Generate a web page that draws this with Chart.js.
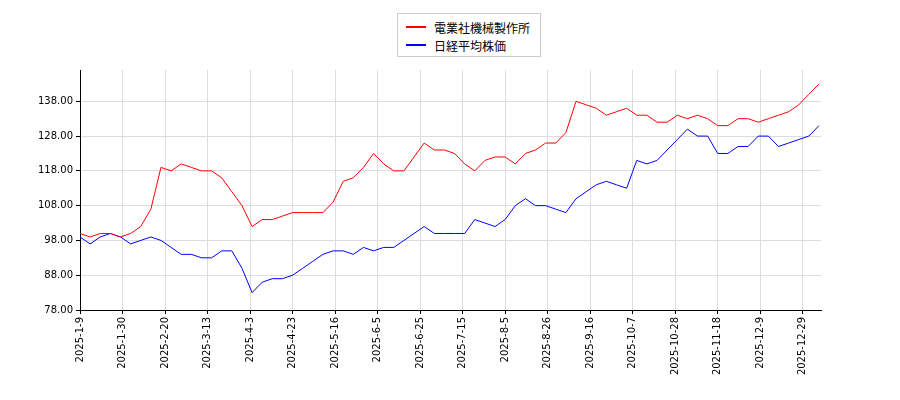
<!DOCTYPE html>
<html>
<head>
<meta charset="utf-8">
<script src="https://cdn.jsdelivr.net/npm/chart.js@4"></script>
<style>
  body { margin: 0; background: #fff; }
  #wrap { position: relative; width: 900px; height: 400px; }
  #legend {
    position: absolute; left: 397px; top: 13px; width: 144px; height: 44px;
    border: 1px solid #ccc; background: #fff; font: 12px "Noto Sans CJK JP", sans-serif;
    box-sizing: border-box; padding: 4px 8px;
  }
  #legend div { display: flex; align-items: center; height: 18px; }
  #legend span.l { display: inline-block; width: 20px; height: 2px; margin-right: 8px; }
</style>
</head>
<body>
<div id="wrap">
  <canvas id="chart" width="900" height="400"></canvas>
  <div id="legend">
    <div><span class="l" style="background:#f00"></span>電業社機械製作所</div>
    <div><span class="l" style="background:#00f"></span>日経平均株価</div>
  </div>
</div>
<script>
// Tick labels, one every 21 units along the x axis
const tickLabels = ['2025-1-9', '2025-1-30', '2025-2-20', '2025-3-13', '2025-4-3', '2025-4-23', '2025-5-16',
  '2025-6-5', '2025-6-25', '2025-7-15', '2025-8-5', '2025-8-26', '2025-9-16', '2025-10-7', '2025-10-28',
  '2025-11-18', '2025-12-9', '2025-12-29'];
// Values sampled every 5 units
const companyValues = [100, 99, 100, 100, 99, 100, 102, 107, 119, 118, 120, 119, 118, 118, 116, 112, 108, 102, 104, 104,
  105, 106, 106, 106, 106, 109, 115, 116, 119, 123, 120, 118, 118, 122, 126, 124, 124, 123, 120, 118,
  121, 122, 122, 120, 123, 124, 126, 126, 129, 138, 137, 136, 134, 135, 136, 134, 134, 132, 132, 134,
  133, 134, 133, 131, 131, 133, 133, 132, 133, 134, 135, 137, 140, 143];
const nikkeiValues = [99, 97, 99, 100, 99, 97, 98, 99, 98, 96, 94, 94, 93, 93, 95, 95, 90, 83, 86, 87,
  87, 88, 90, 92, 94, 95, 95, 94, 96, 95, 96, 96, 98, 100, 102, 100, 100, 100, 100, 104,
  103, 102, 104, 108, 110, 108, 108, 107, 106, 110, 112, 114, 115, 114, 113, 121, 120, 121, 124, 127,
  130, 128, 128, 123, 123, 125, 125, 128, 128, 125, 126, 127, 128, 131];
const days = companyValues.map((v, i) => i * 5);

const ctx = document.getElementById('chart').getContext('2d');
new Chart(ctx, {
  type: 'line',
  data: {
    datasets: [
      { label: '電業社機械製作所', data: days.map((d, i) => ({ x: d, y: companyValues[i] })),
        borderColor: '#f00', borderWidth: 1, pointRadius: 0, tension: 0 },
      { label: '日経平均株価', data: days.map((d, i) => ({ x: d, y: nikkeiValues[i] })),
        borderColor: '#00f', borderWidth: 1, pointRadius: 0, tension: 0 }
    ]
  },
  options: {
    responsive: false,
    animation: false,
    layout: { padding: { top: 70, right: 79, left: 0, bottom: 0 } },
    plugins: { legend: { display: false }, tooltip: { enabled: false } },
    scales: {
      x: {
        type: 'linear', min: 0, max: 366,
        afterFit: s => { s.height = 90; },
        afterBuildTicks: s => { s.ticks = tickLabels.map((t, i) => ({ value: i * 21 })); },
        ticks: { callback: v => tickLabels[Math.round(v / 21)], maxRotation: 90, minRotation: 90, color: '#000',
          font: { size: 10, family: 'DejaVu Sans' } },
        grid: { color: '#ddd', tickLength: 4, tickColor: '#000' },
        border: { color: '#000' }
      },
      y: {
        min: 78, max: 147,
        afterFit: s => { s.width = 80; },
        afterBuildTicks: s => { s.ticks = []; for (let v = 78; v <= 138; v += 10) s.ticks.push({ value: v }); },
        ticks: { callback: v => v.toFixed(2), color: '#000', font: { size: 10, family: 'DejaVu Sans' } },
        grid: { color: '#ddd', tickLength: 4, tickColor: '#000' },
        border: { color: '#000' }
      }
    }
  }
});
</script>
</body>
</html>
